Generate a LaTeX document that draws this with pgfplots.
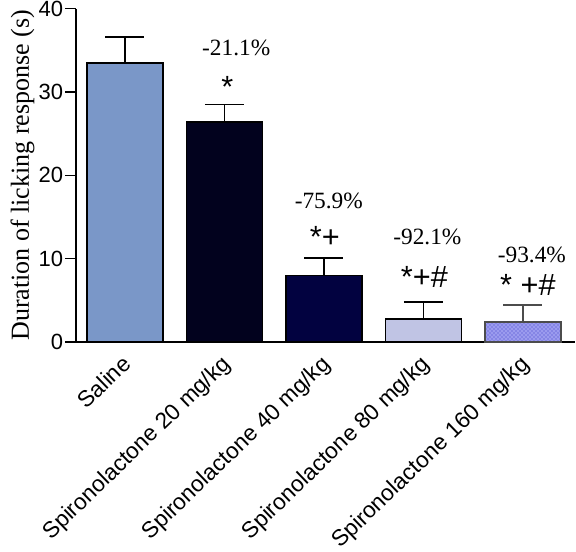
\documentclass[border=0pt]{standalone}
\usepackage{fontspec}
\setmainfont{Liberation Sans}
\newfontfamily\seriffont{Liberation Serif}
\usepackage{pgfplots}
\pgfplotsset{compat=1.18}
\usetikzlibrary{patterns,calc}
\definecolor{c1}{RGB}{122,151,200}
\definecolor{c2}{RGB}{2,2,30}
\definecolor{c3}{RGB}{2,2,64}
\definecolor{c4}{RGB}{192,196,228}
\definecolor{c5}{RGB}{155,155,238}
\definecolor{c5p}{RGB}{60,60,200}
\begin{document}
\begin{tikzpicture}
\begin{axis}[
  scale only axis,
  width=374pt, height=250pt,
  xmin=-0.49, xmax=4.52,
  ymin=0, ymax=40,
  axis lines=left,
  axis line style={line width=1.1pt, -},
  ytick={0,10,20,30,40},
  xtick={0,1,2,3,4},
  xticklabels={Saline, Spironolactone 20 mg/kg, Spironolactone 40 mg/kg, Spironolactone 80 mg/kg, Spironolactone 160 mg/kg},
  major tick length=8pt,
  xtick style={draw=none},
  ytick style={line width=1.1pt, black},
  tick align=outside,
  /pgf/number format/assume math mode=true,
  yticklabel style={font=\fontsize{16.5}{18}\selectfont, inner sep=1.5pt},
  xticklabel style={font=\fontsize{17}{19}\selectfont, anchor=north east, inner sep=2pt, xshift=-3pt, yshift=2pt, rotate=44},
  ylabel={\seriffont Duration of licking response (s)},
  ylabel style={font=\fontsize{19.5}{22}\selectfont, yshift=-2pt},
  ybar, bar width=57pt, bar shift=0pt,
  clip=false,
]
\addplot[fill=c1, draw=black, line width=1.1pt,
  error bars/.cd, y dir=plus, y explicit,
  error bar style={line width=1.1pt, black},
  error mark options={rotate=90, mark size=14.6pt, line width=1.1pt, black}]
  coordinates {(0,33.5) +- (0,3.1)};
\addplot[fill=c2, draw=black, line width=1.1pt,
  error bars/.cd, y dir=plus, y explicit,
  error bar style={line width=1.1pt, black},
  error mark options={rotate=90, mark size=14.6pt, line width=1.1pt, black}]
  coordinates {(1,26.4) +- (0,2.1)};
\addplot[fill=c3, draw=black, line width=1.1pt,
  error bars/.cd, y dir=plus, y explicit,
  error bar style={line width=1.1pt, black},
  error mark options={rotate=90, mark size=14.6pt, line width=1.1pt, black}]
  coordinates {(2,8.0) +- (0,2.1)};
\addplot[fill=c4, draw=black, line width=1.1pt,
  error bars/.cd, y dir=plus, y explicit,
  error bar style={line width=1.1pt, black},
  error mark options={rotate=90, mark size=14.6pt, line width=1.1pt, black}]
  coordinates {(3,2.75) +- (0,2.05)};
\addplot[fill=c5, draw=black!70, line width=1.1pt,
  postaction={pattern=crosshatch dots, pattern color=c5p},
  error bars/.cd, y dir=plus, y explicit,
  error bar style={line width=1.1pt, black!70},
  error mark options={rotate=90, mark size=14.6pt, line width=1.1pt, black!70}]
  coordinates {(4,2.4) +- (0,2.05)};
\begin{scope}[every node/.style={font=\seriffont\fontsize{17.5}{19}\selectfont, anchor=base, inner sep=0pt}]
\node at (axis cs:1.12,34.35) {-21.1\%};
\node at (axis cs:2.05,16.0) {-75.9\%};
\node at (axis cs:3.04,11.65) {-92.1\%};
\node at (axis cs:4.09,9.6) {-93.4\%};
\end{scope}
\begin{scope}[every node/.style={font=\fontsize{23}{25}\selectfont, anchor=base, inner sep=0pt}]
\node at (axis cs:1.03,29.4) {*};
\node at (axis cs:2.01,11.4) {*+};
\node at (axis cs:3.01,6.5) {*+\#};
\node at (axis cs:4.05,5.6) {* +\#};
\end{scope}
\end{axis}
\pgfresetboundingbox
\useasboundingbox ($(current axis.south west)+(-57pt,-156.75pt)$) rectangle ++(432pt,413.25pt);
\end{tikzpicture}
\end{document}
